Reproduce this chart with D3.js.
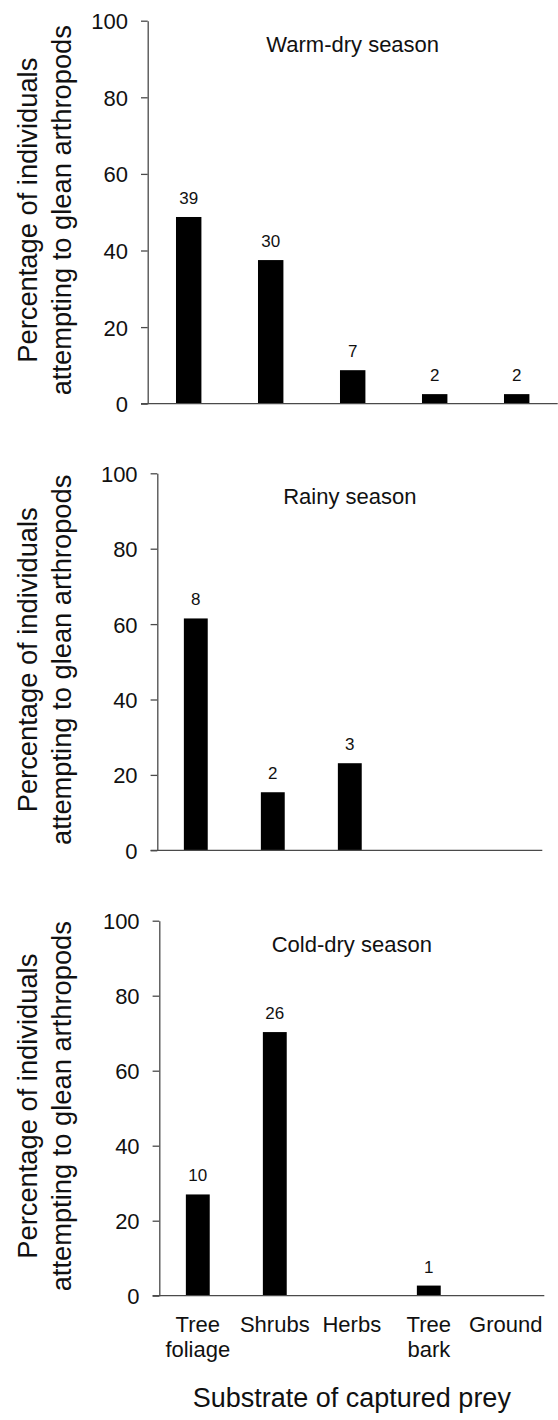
<!DOCTYPE html>
<html>
<head>
<meta charset="utf-8">
<script src="https://cdn.jsdelivr.net/npm/d3@7"></script>
<style>
  html, body { margin: 0; padding: 0; background: #fff; }
  svg { display: block; font-family: "Liberation Sans", Arial, sans-serif; }
</style>
</head>
<body>
<svg id="chart" width="558" height="1420"></svg>
<script>
// Substrates on which prey was captured
const categories = ["Tree foliage", "Shrubs", "Herbs", "Tree bark", "Ground"];
const categoryLines = [["Tree", "foliage"], ["Shrubs"], ["Herbs"], ["Tree", "bark"], ["Ground"]];

// Season panel titles
const seasons = ["Warm-dry season", "Rainy season", "Cold-dry season"];

// Number of individuals per substrate (printed above bars)
const warmDryCounts = [39, 30, 7, 2, 2];
const rainyCounts   = [8, 2, 3, 0, 0];
const coldDryCounts = [10, 26, 0, 1, 0];

// Percentage of individuals per substrate (bar heights)
const warmDryPct = [48.75, 37.5, 8.75, 2.5, 2.5];
const rainyPct   = [61.5, 15.4, 23.1, 0, 0];
const coldDryPct = [27.0, 70.3, 0, 2.7, 0];

// Y axis ticks
const yTicks = [0, 20, 40, 60, 80, 100];

const yTitleLines = ["Percentage of individuals", "attempting to glean arthropods"];
const xTitle = "Substrate of captured prey";

// Panel frames (plot area edges in px)
const frames = [
  { left: 147.7, right: 557.7, top: 20.7,  bottom: 403.7 },
  { left: 157.3, right: 542.3, top: 473.3, bottom: 850.3 },
  { left: 159.3, right: 544.3, top: 920.7, bottom: 1295.7 }
];

const countsBySeason = [warmDryCounts, rainyCounts, coldDryCounts];
const pctBySeason = [warmDryPct, rainyPct, coldDryPct];

const svg = d3.select("#chart");
const axisColor = "#4a4a4a";
const textColor = "#111";

frames.forEach((f, i) => {
  const rows = categories.map((c, j) => ({
    cat: c, count: countsBySeason[i][j], pct: pctBySeason[i][j]
  }));

  const x = d3.scaleBand().domain(categories).range([f.left, f.right]).paddingInner(0.69).paddingOuter(0.345);
  const y = d3.scaleLinear().domain([0, 100]).range([f.bottom, f.top]);

  const g = svg.append("g");

  // bars
  g.selectAll("rect.bar")
    .data(rows.filter(d => d.count > 0))
    .join("rect")
    .attr("class", "bar")
    .attr("x", d => x(d.cat))
    .attr("width", x.bandwidth())
    .attr("y", d => y(d.pct))
    .attr("height", d => y(0) - y(d.pct))
    .attr("fill", "#000");

  // counts above bars
  g.selectAll("text.count")
    .data(rows.filter(d => d.count > 0))
    .join("text")
    .attr("class", "count")
    .attr("x", d => x(d.cat) + x.bandwidth() / 2)
    .attr("y", d => y(d.pct) - 13)
    .attr("text-anchor", "middle")
    .attr("font-size", 17)
    .attr("fill", textColor)
    .text(d => d.count);

  // y axis
  const yAxis = g.append("g")
    .attr("transform", `translate(${f.left},0)`)
    .call(d3.axisLeft(y).tickValues(yTicks).tickSize(6.7).tickSizeOuter(0).tickPadding(13));
  yAxis.selectAll("path, line").attr("stroke", axisColor).attr("stroke-width", 1.3);
  yAxis.selectAll("text")
    .attr("font-size", 22)
    .attr("font-family", "Liberation Sans, Arial, sans-serif")
    .attr("fill", textColor)
    .attr("dy", "0.36em");

  // x axis
  const xAxis = g.append("g")
    .attr("transform", `translate(0,${f.bottom})`)
    .call(d3.axisBottom(x).tickSize(0).tickSizeOuter(0).tickFormat(() => ""));
  xAxis.select("path.domain")
    .attr("stroke", axisColor).attr("stroke-width", 1.3)
    .attr("d", `M${f.left - 6.7},0H${f.right}`);

  if (i === frames.length - 1) {
    xAxis.selectAll(".tick text")
      .attr("y", 36)
      .attr("dy", null)
      .attr("font-size", 22)
      .attr("font-family", "Liberation Sans, Arial, sans-serif")
      .attr("fill", textColor)
      .each(function(d) {
        const lines = categoryLines[categories.indexOf(d)];
        d3.select(this).selectAll("tspan")
          .data(lines)
          .join("tspan")
          .attr("x", 0)
          .attr("dy", (l, k) => k === 0 ? 0 : 25.6)
          .text(l => l);
      });
  }

  // panel title
  g.append("text")
    .attr("x", (f.left + f.right) / 2)
    .attr("y", f.top + 31)
    .attr("text-anchor", "middle")
    .attr("font-size", 22)
    .attr("fill", textColor)
    .text(seasons[i]);

  // y axis title
  const cy = (f.top + f.bottom) / 2 - 2;
  [36.5, 70.5].forEach((bx, k) => {
    g.append("text")
      .attr("transform", `translate(${bx},${cy}) rotate(-90)`)
      .attr("text-anchor", "middle")
      .attr("font-size", 27.3)
      .attr("fill", textColor)
      .text(yTitleLines[k]);
  });
});

// x axis title
const last = frames[frames.length - 1];
svg.append("text")
  .attr("x", (last.left + last.right) / 2)
  .attr("y", 1407)
  .attr("text-anchor", "middle")
  .attr("font-size", 27)
  .attr("fill", textColor)
  .text(xTitle);
</script>
</body>
</html>
